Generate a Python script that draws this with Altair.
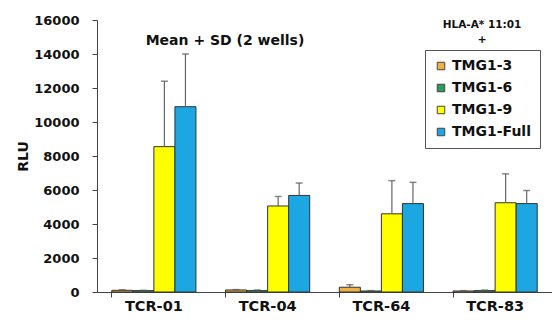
import altair as alt
import pandas as pd

categories = ["TCR-01", "TCR-04", "TCR-64", "TCR-83"]
series = ["TMG1-3", "TMG1-6", "TMG1-9", "TMG1-Full"]
colors = ["#EDB23F", "#2E9A5C", "#FFFF00", "#1CA6E2"]
y_ticks = [0, 2000, 4000, 6000, 8000, 10000, 12000, 14000, 16000]

mean_tmg1_3 = [100, 120, 280, 60]
mean_tmg1_6 = [80, 80, 60, 80]
mean_tmg1_9 = [8550, 5060, 4600, 5250]
mean_tmg1_full = [10900, 5680, 5200, 5200]

sd_tmg1_3 = [30, 20, 150, 20]
sd_tmg1_6 = [20, 40, 20, 30]
sd_tmg1_9 = [3850, 560, 1950, 1700]
sd_tmg1_full = [3100, 730, 1250, 770]

means = [mean_tmg1_3, mean_tmg1_6, mean_tmg1_9, mean_tmg1_full]
sds = [sd_tmg1_3, sd_tmg1_6, sd_tmg1_9, sd_tmg1_full]

rows = []
for s, m_list, sd_list in zip(series, means, sds):
    for c, m, sd in zip(categories, m_list, sd_list):
        rows.append({"tcr": c, "series": s, "mean": m, "top": m + sd})
df = pd.DataFrame(rows)

FONT = "DejaVu Sans"

x_axis = alt.Axis(
    bandPosition=0,
    labelAngle=0,
    labelFont=FONT,
    labelFontSize=14.5,
    labelFontWeight="bold",
    labelColor="#111",
    labelPadding=2,
    tickSize=5,
    tickColor="#444",
    domainColor="#444",
    grid=False,
)
x_scale = alt.Scale(paddingInner=0.26, paddingOuter=0.13)
xoff = alt.XOffset("series:N", sort=series, scale=alt.Scale(paddingInner=0, paddingOuter=0))

y_axis = alt.Axis(
    values=y_ticks,
    tickCount=9,
    format="d",
    labelOverlap=False,
    labelFont=FONT,
    labelFontSize=13,
    labelFontWeight="bold",
    labelColor="#111",
    labelPadding=13,
    tickSize=5,
    tickColor="#444",
    domainColor="#444",
    grid=False,
    titleFont=FONT,
    titleFontSize=14,
    titleFontWeight="bold",
    titleColor="#111",
    titlePadding=3,
)
y_scale = alt.Scale(domain=[0, 16000], nice=False)

base = alt.Chart(df)

bars = base.mark_bar(stroke="#333", strokeWidth=1).encode(
    x=alt.X("tcr:N", sort=categories, title=None, scale=x_scale, axis=x_axis),
    xOffset=xoff,
    y=alt.Y("mean:Q", title="RLU", scale=y_scale, axis=y_axis),
    fill=alt.Fill(
        "series:N",
        sort=series,
        scale=alt.Scale(domain=series, range=colors),
        legend=alt.Legend(
            title=None,
            orient="none",
            legendX=328,
            legendY=30,
            direction="vertical",
            strokeColor="#555",
            padding=9,
            symbolType="square",
            symbolSize=56,
            symbolStrokeColor="#444",
            symbolStrokeWidth=1,
            labelFont=FONT,
            labelFontSize=14,
            labelFontWeight="bold",
            labelColor="#111",
            rowPadding=8,
            labelOffset=4,
            offset=0,
        ),
    ),
)

err = base.mark_rule(color="#666", strokeWidth=1.2).encode(
    x=alt.X("tcr:N", sort=categories, title=None, scale=x_scale, axis=x_axis),
    xOffset=xoff,
    y=alt.Y("top:Q", title="RLU", scale=y_scale, axis=y_axis),
    y2="mean:Q",
)

caps = base.mark_tick(color="#555", thickness=1.5, size=7).encode(
    x=alt.X("tcr:N", sort=categories, title=None, scale=x_scale, axis=x_axis),
    xOffset=xoff,
    y=alt.Y("top:Q", title="RLU", scale=y_scale, axis=y_axis),
)

title_txt = alt.Chart(pd.DataFrame({"t": ["Mean +  SD (2 wells)"]})).mark_text(
    font=FONT, fontSize=14, fontWeight="bold", color="#111", align="center", baseline="middle"
).encode(text="t:N", x=alt.value(128), y=alt.value(21))

hla_txt = alt.Chart(pd.DataFrame({"t": ["HLA-A* 11:01"]})).mark_text(
    font=FONT, fontSize=10.5, fontWeight="bold", color="#111", align="center", baseline="middle"
).encode(text="t:N", x=alt.value(385), y=alt.value(5))

plus_txt = alt.Chart(pd.DataFrame({"t": ["+"]})).mark_text(
    font=FONT, fontSize=11, fontWeight="bold", color="#111", align="center", baseline="middle"
).encode(text="t:N", x=alt.value(385), y=alt.value(20))

chart = (
    alt.layer(bars, err, caps, title_txt, hla_txt, plus_txt)
    .properties(
        width=455,
        height=272,
        background="white",
        autosize=alt.AutoSizeParams(type="none"),
        padding={"left": 97, "top": 20, "right": 0, "bottom": 28},
    )
    .configure_view(stroke=None)
)

chart.save("out.html", embed_options={"renderer": "svg", "actions": False})
